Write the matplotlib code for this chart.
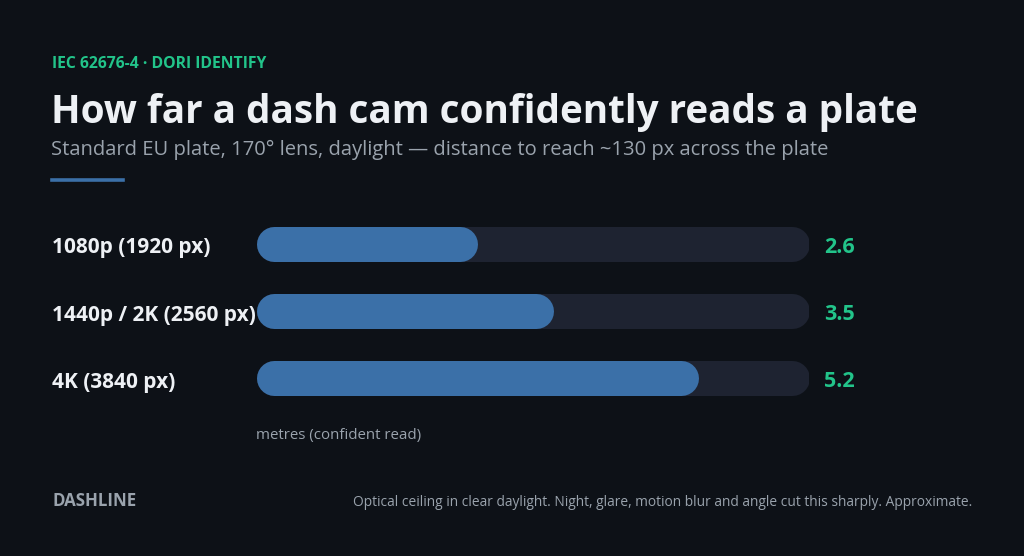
import matplotlib.pyplot as plt
from matplotlib.transforms import blended_transform_factory

# data
categories = ["1080p (1920 px)", "1440p / 2K (2560 px)", "4K (3840 px)"]
distances = [2.6, 3.5, 5.2]
x_max = 6.5

# look
BG = "#0d1117"
TRACK = "#1e2331"
BAR = "#3b70a8"
GREEN = "#22c48a"
WHITE = "#eef1f5"
GREY = "#9aa3ad"
W, H = 1024, 556

plt.rcParams['font.family'] = ['Open Sans', 'DejaVu Sans']

fig = plt.figure(figsize=(W / 100, H / 100), dpi=100, facecolor=BG)

def fx(px):
    return px / W

def fy(py):
    return 1 - py / H

# header
fig.text(fx(52), fy(68), "IEC 62676-4 · DORI IDENTIFY", color=GREEN,
         fontsize=11.3, fontweight="bold", va="baseline", ha="left")
fig.text(fx(51), fy(123), "How far a dash cam confidently reads a plate",
         color=WHITE, fontsize=27.8, fontweight="bold", va="baseline", ha="left")
fig.text(fx(51), fy(155),
         "Standard EU plate, 170° lens, daylight — distance to reach ~130 px across the plate",
         color=GREY, fontsize=14.5, va="baseline", ha="left")
fig.add_artist(plt.Line2D([fx(52), fx(123)], [fy(180), fy(180)],
                          color=BAR, lw=2.6, transform=fig.transFigure))

# bars
ax = fig.add_axes([fx(256), fy(412), fx(809) - fx(256), fy(210) - fy(412)])
ax.set_facecolor(BG)
ax.set_xlim(0, x_max)
ax.set_ylim(len(categories) - 0.5, -0.5)
ax.axis("off")

bar_px = 35
lw_pt = bar_px * 72 / fig.dpi
fig.canvas.draw()
px_per_unit = ax.transData.transform((1, 0))[0] - ax.transData.transform((0, 0))[0]
r = (bar_px / 2) / px_per_unit

label_tf = blended_transform_factory(fig.transFigure, ax.transData)
for i, (cat, d) in enumerate(zip(categories, distances)):
    ax.plot([r, x_max - r], [i, i], color=TRACK, lw=lw_pt,
            solid_capstyle="round", zorder=1)
    ax.plot([r, d - r], [i, i], color=BAR, lw=lw_pt,
            solid_capstyle="round", zorder=2)
    ax.annotate(cat, (fx(52), i), xycoords=label_tf, xytext=(0, -1.2),
                textcoords="offset points", color=WHITE, fontsize=15,
                fontweight="bold", va="center_baseline", ha="left", zorder=3)
    ax.annotate(f"{d:.1f}", (x_max, i), xytext=(11, -0.7), textcoords="offset points",
                color=GREEN, fontsize=15.5, fontweight="bold",
                va="center_baseline", ha="left")

fig.text(fx(256), fy(435), "metres (confident read)", color=GREY,
         fontsize=10.8, va="center", ha="left")

# footer
fig.text(fx(52), fy(501), "DASHLINE", color=GREY, fontsize=12.2,
         fontweight="bold", va="center", ha="left")
fig.text(fx(972), fy(502),
         "Optical ceiling in clear daylight. Night, glare, motion blur and angle cut this sharply. Approximate.",
         color=GREY, fontsize=9.9, va="center", ha="right")

fig.savefig("out.png", dpi=100, facecolor=BG)
